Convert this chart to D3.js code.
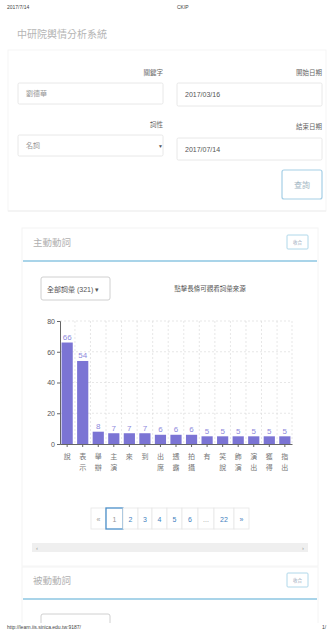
<!DOCTYPE html>
<html>
<head>
<meta charset="utf-8">
<script src="https://cdn.jsdelivr.net/npm/d3@7"></script>
<style>
  body { margin: 0; background: #fff; }
  text { font-family: "Liberation Sans", "Noto Sans CJK TC", sans-serif; }
</style>
</head>
<body>
<script>
// chart data
var categories = ["說", "表示", "舉辦", "主演", "來", "到", "出席", "透露", "拍攝", "有", "笑說", "飾演", "演出", "獲得", "指出"];
var counts = [66, 54, 8, 7, 7, 7, 6, 6, 6, 5, 5, 5, 5, 5, 5];
var yTicks = [0, 20, 40, 60, 80];
var pages = ["«", "1", "2", "3", "4", "5", "6", "...", "22", "»"];

var W = 331, H = 630;
var cjk = "'Noto Sans CJK TC', sans-serif";

var svg = d3.select("body").append("svg")
    .attr("width", W)
    .attr("height", H);

// print header / footer
svg.append("text").attr("x", 7).attr("y", 9).attr("font-size", 5).attr("fill", "#444").text("2017/7/14");
svg.append("text").attr("x", 177).attr("y", 9).attr("font-size", 5).attr("fill", "#444").text("CKIP");

// page title
svg.append("text").attr("x", 17).attr("y", 38).attr("font-size", 10).attr("fill", "#b5b5b5")
    .style("font-family", cjk).text("中研院輿情分析系統");

// search form panel
svg.append("rect").attr("x", 8).attr("y", 50).attr("width", 318).attr("height", 161)
    .attr("fill", "#fff").attr("stroke", "#f5f5f5");
svg.append("line").attr("x1", 8).attr("x2", 326).attr("y1", 211).attr("y2", 211).attr("stroke", "#eee");

function label(x, y, t) {
    svg.append("text").attr("x", x).attr("y", y).attr("text-anchor", "end")
        .attr("font-size", 6.5).attr("fill", "#666").style("font-family", cjk).text(t);
}
function input(x, y, w, h, t, col) {
    svg.append("rect").attr("x", x).attr("y", y).attr("width", w).attr("height", h)
        .attr("rx", 1.5).attr("fill", "#fff").attr("stroke", "#e8e8e8");
    svg.append("text").attr("x", x + 8).attr("y", y + h / 2 + 2.5).attr("font-size", 7)
        .attr("fill", col).style("font-family", "'Liberation Sans', 'Noto Sans CJK TC'").text(t);
}
label(163, 75, "關鍵字");
label(322, 75, "開始日期");
input(18, 83, 145, 21, "劉德華", "#999");
input(177, 83, 145, 23, "2017/03/16", "#555");
label(163, 127, "詞性");
label(322, 129, "結束日期");
input(18, 135, 145, 21, "名詞", "#999");
svg.append("text").attr("x", 158).attr("y", 148).attr("font-size", 5).attr("fill", "#555").text("▼");
input(177, 138, 145, 22, "2017/07/14", "#555");

svg.append("rect").attr("x", 282).attr("y", 170).attr("width", 40).attr("height", 29)
    .attr("rx", 2).attr("fill", "#fff").attr("stroke", "#a6cfe6").attr("stroke-width", 1.2);
svg.append("text").attr("x", 302).attr("y", 188).attr("text-anchor", "middle").attr("font-size", 8)
    .attr("fill", "#a5b8c5").style("font-family", cjk).text("查詢");

// result panels
function panelHeader(y, title) {
    svg.append("text").attr("x", 33).attr("y", y).attr("font-size", 9.5).attr("fill", "#b0b0b0")
        .style("font-family", cjk).text(title);
    svg.append("rect").attr("x", 287).attr("y", y - 11).attr("width", 21).attr("height", 14)
        .attr("rx", 1).attr("fill", "#fff").attr("stroke", "#b0d8ea");
    svg.append("text").attr("x", 297.5).attr("y", y - 2).attr("text-anchor", "middle")
        .attr("font-size", 4.5).attr("fill", "#9ab").style("font-family", cjk).text("收合");
    svg.append("line").attr("x1", 23).attr("x2", 317).attr("y1", y + 15).attr("y2", y + 15)
        .attr("stroke", "#8cc6e2").attr("stroke-width", 1.5);
}

svg.append("rect").attr("x", 22).attr("y", 228).attr("width", 296).attr("height", 338)
    .attr("fill", "#fff").attr("stroke", "#f4f4f4");
panelHeader(246, "主動動詞");

svg.append("rect").attr("x", 41).attr("y", 277).attr("width", 69).attr("height", 23)
    .attr("rx", 2).attr("fill", "#fff").attr("stroke", "#d0d0d0");
svg.append("text").attr("x", 47).attr("y", 291.5).attr("font-size", 7).attr("fill", "#555")
    .style("font-family", "'Liberation Sans Narrow', 'Liberation Sans', 'Noto Sans CJK TC'")
    .text("全部詞彙 (321) ▾");
svg.append("text").attr("x", 210).attr("y", 291).attr("text-anchor", "middle").attr("font-size", 6.5)
    .attr("fill", "#555").style("font-family", cjk).text("點擊長條可觀看詞彙來源");

// bar chart
var x = d3.scaleBand()
    .domain(categories)
    .range([60, 292])
    .paddingInner(0.28)
    .paddingOuter(0.1);

var y = d3.scaleLinear()
    .domain([0, 80])
    .range([444, 321]);

var data = categories.map(function (c, i) { return {name: c, value: counts[i]}; });

// dashed grid
svg.append("g").selectAll("line.h")
    .data(yTicks.slice(1))
    .enter().append("line")
    .attr("x1", 60).attr("x2", 292)
    .attr("y1", function (d) { return y(d); })
    .attr("y2", function (d) { return y(d); })
    .attr("stroke", "#ddd").attr("stroke-dasharray", "2,2").attr("stroke-width", 0.7);

var gap = x.step() * x.paddingInner();
svg.append("g").selectAll("line.v")
    .data(categories)
    .enter().append("line")
    .attr("x1", function (d, i) { return i == categories.length - 1 ? 292 : x(d) + x.bandwidth() + gap / 2; })
    .attr("x2", function (d, i) { return i == categories.length - 1 ? 292 : x(d) + x.bandwidth() + gap / 2; })
    .attr("y1", y(80)).attr("y2", y(0))
    .attr("stroke", "#ddd").attr("stroke-dasharray", "2,2").attr("stroke-width", 0.7);

svg.append("g").selectAll("rect")
    .data(data)
    .enter().append("rect")
    .attr("x", function (d) { return x(d.name); })
    .attr("y", function (d) { return y(d.value); })
    .attr("width", x.bandwidth())
    .attr("height", function (d) { return y(0) - y(d.value); })
    .attr("fill", "#7b74d4");

svg.append("g").selectAll("text")
    .data(data)
    .enter().append("text")
    .attr("x", function (d) { return x(d.name) + x.bandwidth() / 2; })
    .attr("y", function (d) { return y(d.value) - 2.5; })
    .attr("text-anchor", "middle")
    .attr("font-size", 8)
    .attr("fill", "#8e89dc")
    .style("font-family", "'Liberation Sans Narrow', 'Liberation Sans'")
    .text(function (d) { return d.value; });

var yAxis = svg.append("g")
    .attr("transform", "translate(60,0)")
    .call(d3.axisLeft(y).tickValues(yTicks).tickSize(3).tickSizeOuter(3));
yAxis.selectAll("text").attr("font-size", 7).attr("fill", "#555").attr("dx", 1)
    .style("font-family", "'Liberation Sans Narrow', 'Liberation Sans'");
yAxis.selectAll("line, path").attr("stroke", "#666");

var xAxis = svg.append("g")
    .attr("transform", "translate(0,444)")
    .call(d3.axisBottom(x).tickSize(3).tickSizeOuter(0).tickFormat(""));
xAxis.selectAll("line, path").attr("stroke", "#666");

// stacked vertical category labels
var xl = svg.append("g").selectAll("text")
    .data(categories)
    .enter().append("text")
    .attr("text-anchor", "middle")
    .attr("font-size", 7)
    .attr("fill", "#777")
    .style("font-family", cjk);
xl.each(function (d) {
    var t = d3.select(this);
    d.split("").forEach(function (ch, i) {
        t.append("tspan")
            .attr("x", x(d) + x.bandwidth() / 2)
            .attr("y", 459 + i * 10.5)
            .text(ch);
    });
});

// pagination
var pw = [15, 17, 15, 14, 15, 15, 16, 16, 20, 15];
var px = 91;
pages.forEach(function (p, i) {
    var active = p == "1";
    svg.append("rect").attr("x", px).attr("y", 508).attr("width", pw[i]).attr("height", 21)
        .attr("fill", "#fff")
        .attr("stroke", active ? "#4a8fc9" : "#e6e6e6")
        .attr("stroke-width", active ? 1.3 : 0.8);
    svg.append("text").attr("x", px + pw[i] / 2).attr("y", 521.5).attr("text-anchor", "middle")
        .attr("font-size", 7)
        .attr("fill", (p == "«" || p == "..." || active) ? "#999" : "#3f7fc0")
        .style("font-family", "'Liberation Sans Narrow', 'Liberation Sans'")
        .text(p);
    px += pw[i];
});

// horizontal scrollbar
svg.append("rect").attr("x", 32).attr("y", 543).attr("width", 276).attr("height", 9).attr("fill", "#efefef");
svg.append("text").attr("x", 36).attr("y", 550).attr("font-size", 6).attr("fill", "#999").text("‹");
svg.append("text").attr("x", 302).attr("y", 550).attr("font-size", 6).attr("fill", "#999").text("›");

// second panel (cut off by page end)
svg.append("rect").attr("x", 22).attr("y", 567).attr("width", 296).attr("height", 80)
    .attr("fill", "#fff").attr("stroke", "#f4f4f4");
panelHeader(584, "被動動詞");
svg.append("rect").attr("x", 41).attr("y", 614).attr("width", 69).attr("height", 23)
    .attr("rx", 2).attr("fill", "#fff").attr("stroke", "#d0d0d0");

svg.append("rect").attr("x", 0).attr("y", 623).attr("width", W).attr("height", 7).attr("fill", "#fff");
svg.append("text").attr("x", 7).attr("y", 629).attr("font-size", 5).attr("fill", "#444").text("http://learn.iis.sinica.edu.tw:9187/");
svg.append("text").attr("x", 322).attr("y", 629).attr("font-size", 5).attr("fill", "#444").text("1/");
</script>
</body>
</html>
